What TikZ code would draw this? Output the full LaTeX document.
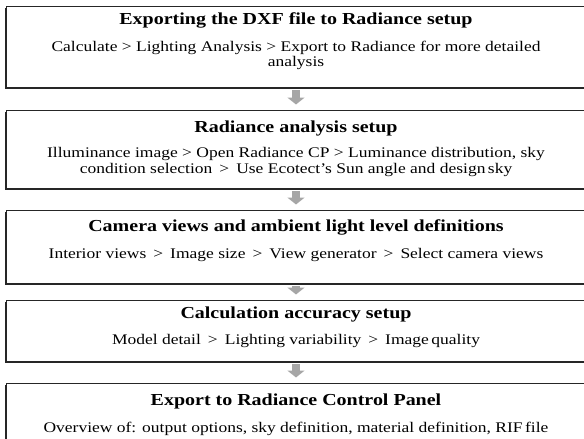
\documentclass[tikz,border=0pt]{standalone}
\usepackage{fontspec}
\setmainfont{Liberation Serif}[FakeStretch=1.19]
\usetikzlibrary{arrows.meta, shadows, positioning}
\newcommand{\nxt}{\hspace{7pt}>\hspace{7pt}}

\begin{document}
\begin{tikzpicture}[x=1pt,y=1pt,
  stage/.style={draw=black!85, line width=1pt, fill=white, minimum width=580pt, inner sep=0pt,
    drop shadow={shadow xshift=-1.5pt, shadow yshift=-2pt, fill=black!85, opacity=1}},
  head/.style={anchor=base, inner sep=0pt, font=\fontsize{16.8}{18}\selectfont\bfseries},
  sub/.style={anchor=base, inner sep=0pt, align=center, font=\fontsize{14.7}{15.5}\selectfont},
  flow/.style={draw=gray!70, line width=8pt, -{Triangle[width=17pt,length=7pt]},
    shorten <=2.5pt, shorten >=5pt}]
\useasboundingbox (0,0) rectangle (584,-439);
% boxes
\node[stage, minimum height=81pt] (export) at (296,-46.5) {};
\node[stage, minimum height=78pt] (radiance) at (296,-149) {};
\node[stage, minimum height=73pt] (camera) at (296,-246.5) {};
\node[stage, minimum height=61pt] (accuracy) at (296,-330.5) {};
\node[stage, minimum height=70pt] (panel) at (296,-418) {};
% titles and steps (two-line steps sit on their last line)
\node[head] (exportT) at (296,-24) {Exporting the DXF file to Radiance setup};
\node[sub] (exportS) at (296,-66.5) {Calculate > Lighting Analysis > Export to Radiance for more detailed\\analysis};
\node[head] (radianceT) at (296,-132) {Radiance analysis setup};
\node[sub] (radianceS) at (296,-173) {Illuminance image > Open Radiance CP > Luminance distribution, sky\\condition selection\nxt Use Ecotect's Sun angle and design\,sky};
\node[head] (cameraT) at (296,-231) {Camera views and ambient light level definitions};
\node[sub] (cameraS) at (296,-258) {Interior views\nxt Image size\nxt View generator\nxt Select camera views};
\node[head] (accuracyT) at (296,-318) {Calculation accuracy setup};
\node[sub] (accuracyS) at (296,-344) {Model detail\nxt Lighting variability\nxt Image\,quality};
\node[head] (panelT) at (296,-405) {Export to Radiance Control Panel};
\node[sub] (panelS) at (296,-432) {Overview of: output options, sky definition, material definition, RIF\,file};
% arrows
\draw[flow] (export) -- (radiance);
\draw[flow] (radiance) -- (camera);
\draw[flow] (camera) -- (accuracy);
\draw[flow] (accuracy) -- (panel);
\end{tikzpicture}
\end{document}
